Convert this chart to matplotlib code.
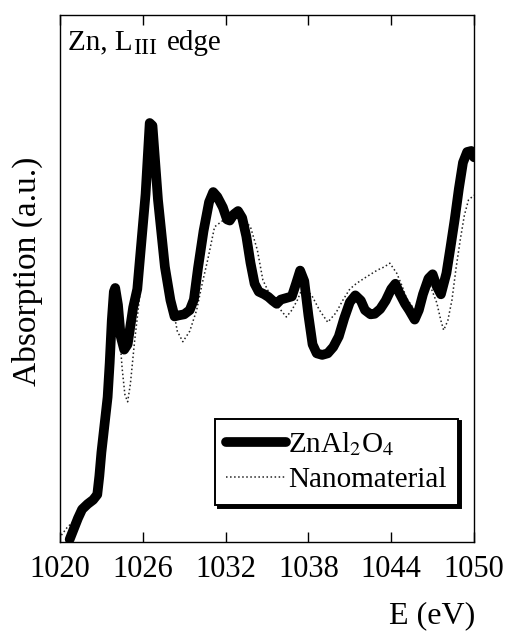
#!/usr/bin/env python3
'''Zn L_III edge XANES: ZnAl2O4 reference vs nanomaterial.'''
import matplotlib
matplotlib.use('Agg')
import matplotlib.pyplot as plt

plt.rcParams['font.family'] = ['Liberation Serif', 'DejaVu Serif']
plt.rcParams['mathtext.fontset'] = 'stix'

# ZnAl2O4 (thick line), energy in eV / absorption in a.u.
E_ref = [1020.7, 1021.0, 1021.3, 1021.6, 1022.0, 1022.4, 1022.7, 1022.85, 1023.0,
         1023.15, 1023.3, 1023.45, 1023.6, 1023.75, 1023.9, 1024.0, 1024.2, 1024.4,
         1024.65, 1024.9, 1025.1, 1025.3, 1025.6, 1025.8, 1026.2, 1026.5, 1026.7,
         1027.1, 1027.6, 1028.0, 1028.3, 1028.6, 1029.0, 1029.4, 1029.7, 1030.0,
         1030.4, 1030.8, 1031.1, 1031.4, 1031.8, 1032.1, 1032.3, 1032.6, 1032.9,
         1033.2, 1033.5, 1033.8, 1034.1, 1034.4, 1034.8, 1035.1, 1035.4, 1035.7,
         1036.0, 1036.4, 1036.8, 1037.1, 1037.4, 1037.7, 1038.0, 1038.3, 1038.6,
         1039.0, 1039.4, 1039.8, 1040.2, 1040.6, 1041.0, 1041.4, 1041.8, 1042.1,
         1042.5, 1042.8, 1043.2, 1043.6, 1044.0, 1044.3, 1044.6, 1045.0, 1045.3,
         1045.7, 1046.0, 1046.3, 1046.7, 1047.0, 1047.3, 1047.6, 1048.0, 1048.3,
         1048.6, 1048.9, 1049.2, 1049.5, 1049.8, 1050.0]
A_ref = [0.005, 0.025, 0.045, 0.062, 0.072, 0.080, 0.090, 0.125, 0.170,
         0.205, 0.240, 0.275, 0.340, 0.420, 0.475, 0.482, 0.450, 0.390,
         0.365, 0.375, 0.410, 0.445, 0.480, 0.540, 0.660, 0.795, 0.790,
         0.649, 0.522, 0.459, 0.428, 0.430, 0.432, 0.440, 0.460, 0.520,
         0.590, 0.645, 0.664, 0.655, 0.635, 0.612, 0.610, 0.622, 0.628,
         0.615, 0.580, 0.530, 0.490, 0.475, 0.470, 0.465, 0.458, 0.452,
         0.460, 0.463, 0.466, 0.490, 0.515, 0.495, 0.430, 0.375, 0.358,
         0.355, 0.358, 0.370, 0.390, 0.425, 0.455, 0.468, 0.458, 0.440,
         0.432, 0.433, 0.442, 0.458, 0.480, 0.490, 0.472, 0.452, 0.440,
         0.422, 0.440, 0.470, 0.500, 0.508, 0.485, 0.470, 0.510, 0.560,
         0.612, 0.670, 0.720, 0.740, 0.742, 0.730]

# nanomaterial (dotted line)
E_nano = [1020.1, 1020.5, 1021.0, 1021.6, 1022.3, 1022.8, 1023.3, 1023.7, 1024.0,
          1024.3, 1024.5, 1024.7, 1024.9, 1025.1, 1025.4, 1025.8, 1026.2, 1026.6,
          1027.0, 1027.5, 1028.0, 1028.5, 1028.9, 1029.4, 1029.9, 1030.3, 1030.7,
          1031.2, 1031.8, 1032.5, 1033.2, 1033.8, 1034.3, 1034.7, 1035.4, 1036.0,
          1036.4, 1036.8, 1037.2, 1037.6, 1038.0, 1038.3, 1038.8, 1039.4, 1040.0,
          1040.5, 1041.0, 1041.5, 1042.2, 1043.0, 1043.5, 1043.9, 1044.4, 1044.8,
          1045.1, 1045.7, 1046.2, 1046.8, 1047.3, 1047.6, 1047.8, 1048.1, 1048.4,
          1048.7, 1049.0, 1049.3, 1049.6, 1050.0]
A_nano = [0.013, 0.027, 0.040, 0.062, 0.080, 0.130, 0.250, 0.400, 0.480,
          0.400, 0.330, 0.280, 0.266, 0.300, 0.380, 0.472, 0.620, 0.780,
          0.740, 0.580, 0.470, 0.400, 0.380, 0.400, 0.440, 0.490, 0.535,
          0.598, 0.610, 0.622, 0.615, 0.598, 0.554, 0.497, 0.459, 0.440,
          0.427, 0.440, 0.459, 0.484, 0.475, 0.465, 0.440, 0.417, 0.435,
          0.459, 0.480, 0.491, 0.503, 0.516, 0.522, 0.529, 0.510, 0.485,
          0.463, 0.440, 0.455, 0.488, 0.454, 0.420, 0.402, 0.420, 0.459,
          0.520, 0.573, 0.620, 0.649, 0.658]

xticks = [1020, 1026, 1032, 1038, 1044, 1050]

fig = plt.figure(figsize=(5.06, 6.32), dpi=100)
ax = fig.add_axes([0.1186, 0.1424, 0.8182, 0.8339])

ax.plot(E_ref, A_ref, color='black', lw=7, solid_capstyle='round',
        solid_joinstyle='round', label=r'ZnAl$_2$O$_4$', zorder=3)
ax.plot(E_nano, A_nano, color='#222222', lw=1.1, ls=':',
        label='Nanomaterial', zorder=2)

ax.set_xlim(1020, 1050)
ax.set_ylim(0, 1)
ax.set_xticks(xticks)
ax.set_yticks([])
ax.tick_params(axis='x', direction='in', top=True, length=7, width=1,
               labelsize=22, pad=9)
for s in ax.spines.values():
    s.set_linewidth(1)

# "Zn, L_III edge" built from pieces so the subscript keeps a serif look
t1 = ax.text(0.019, 0.934, 'Zn, L', transform=ax.transAxes, fontsize=21,
             va='baseline', ha='left')
t2 = ax.annotate('III', xy=(1, 0.934), xycoords=(t1, ax.transAxes),
                 xytext=(0.5, -3), textcoords='offset points', fontsize=17,
                 va='baseline', ha='left')
ax.annotate('edge', xy=(1, 0.934), xycoords=(t2, ax.transAxes),
            xytext=(7, 0), textcoords='offset points', fontsize=21,
            va='baseline', ha='left')

fig.text(0.055, 0.570, 'Absorption (a.u.)', rotation=90, fontsize=24,
         ha='center', va='center')
fig.text(0.939, 0.003, 'E (eV)', fontsize=23, ha='right', va='bottom')

leg = ax.legend(loc='lower right', bbox_to_anchor=(0.961, 0.07),
                borderaxespad=0, fontsize=21, fancybox=False,
                shadow={'color': 'black', 'alpha': 1},
                handlelength=2.05, handletextpad=0.05, borderpad=0.4,
                labelspacing=0.3, framealpha=1)
leg.get_frame().set_edgecolor('black')
leg.get_frame().set_linewidth(1.4)

fig.savefig('out.png', dpi=100)
